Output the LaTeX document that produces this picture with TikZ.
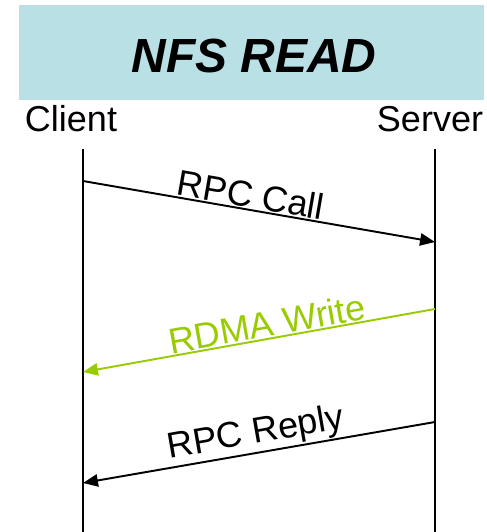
\documentclass[tikz,border=0pt]{standalone}
\usepackage{fontspec}
\setmainfont{Liberation Sans}
\usepackage{tikz}
\usetikzlibrary{positioning}
\usetikzlibrary{arrows.meta}
\definecolor{titlebg}{RGB}{185,224,228}
\definecolor{rdmagreen}{RGB}{153,204,0}
\tikzset{
	lifeline/.style={line width=1.7pt},
	msg/.style={line width=1.1pt,-{Triangle[length=8.5pt,width=7pt]}},
	msglabel/.style={font=\fontsize{20.5}{24}\selectfont,midway,above,sloped,inner sep=0.5pt},
	actor/.style={font=\fontsize{20.5}{24}\selectfont,anchor=base,inner sep=0pt}
}

\begin{document}
\begin{tikzpicture}[x=0.02cm,y=-0.02cm]
				\useasboundingbox (0,0) rectangle (487,532);
				%Nodes
				\fill[titlebg] (19,5) rectangle (484,100);
				\node[anchor=base,inner sep=0pt,font=\fontsize{27.3}{32}\selectfont\bfseries\itshape] (title) at (254,72) {NFS READ};
				\node[actor] (client) at (71,131) {Client};
				\node[actor] (server) at (430,131) {Server};
				\coordinate      (cTop) 	at 	(83,149);
				\coordinate      (cBot) 	at 	(83,532);
				\coordinate      (sTop) 	at 	(435,149);
				\coordinate      (sBot) 	at 	(435,532);
				\coordinate      (c1) 	at 	(83,181);
				\coordinate      (s1) 	at 	(435,242);
				\coordinate      (s2) 	at 	(435,309);
				\coordinate      (c2) 	at 	(83,372);
				\coordinate      (s3) 	at 	(435,422);
				\coordinate      (c3) 	at 	(83,483);

				%Lines
				\draw[lifeline] (cTop) -- (cBot);
				\draw[lifeline] (sTop) -- (sBot);
				\draw[msg] (c1) -- node[msglabel,pos=0.47] {RPC Call} (s1);
				\draw[msg,color=rdmagreen] (s2) -- node[msglabel,pos=0.47] {RDMA Write} (c2);
				\draw[msg] (s3) -- node[msglabel,pos=0.5] {RPC Reply} (c3);

		\end{tikzpicture}
\end{document}
